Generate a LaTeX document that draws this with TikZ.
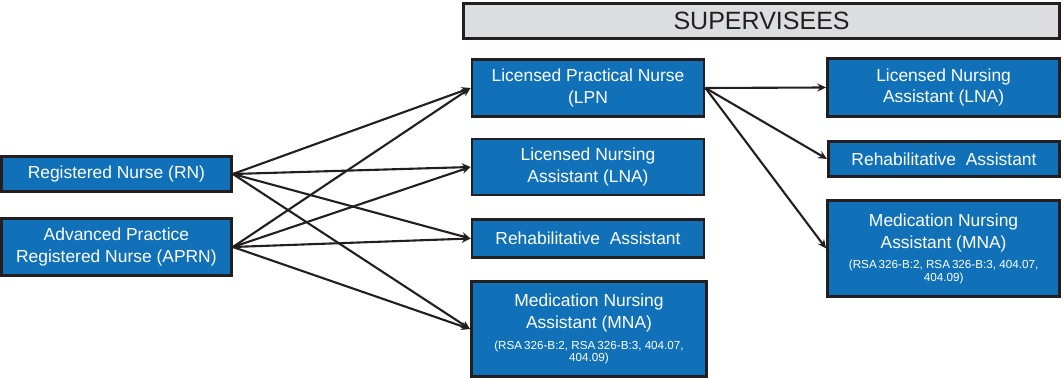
\documentclass[tikz,border=0pt]{standalone}
\usepackage{fontspec}
\setmainfont{Liberation Sans}
\usetikzlibrary{arrows.meta}
\definecolor{boxblue}{RGB}{16,113,185}
\definecolor{boxline}{RGB}{35,31,32}
\definecolor{headgray}{RGB}{220,221,222}
\newcommand{\rsa}{\fontsize{8.3}{8.5}\selectfont}

\begin{document}
\begin{tikzpicture}[
    nurse/.style={draw=boxline, line width=2.1pt, fill=boxblue, text=white,
      align=center, inner sep=0pt, minimum width=5.8cm,
      font=\fontsize{12.4}{15.6}\selectfont},
    sup/.style={draw=boxline, line width=2.1pt, fill=headgray, text=boxline,
      minimum width=14.9cm, minimum height=0.875cm,
      font=\fontsize{17.8}{20}\selectfont},
    link/.style={draw=boxline, line width=1.5pt, -{Stealth[length=0.22cm,width=0.2cm]}}
  ]
  \useasboundingbox (0,0) rectangle (26.6,9.525);
  \node[sup] (head) at (19.04,9.0) {SUPERVISEES};
  % supervisors
  \node[nurse, minimum width=5.75cm, minimum height=0.875cm] (rn) at (2.91,5.175) {Registered Nurse (RN)};
  \node[nurse, minimum width=5.75cm, minimum height=1.425cm] (aprn) at (2.91,3.35) {Advanced Practice\\Registered Nurse (APRN)};
  % supervisees
  \node[nurse, minimum height=1.425cm] (lpn) at (14.7,7.325) {Licensed Practical Nurse\\(LPN};
  \node[nurse, minimum height=1.4cm] (lna) at (14.7,5.35) {Licensed Nursing\\Assistant (LNA)};
  \node[nurse, minimum height=0.95cm] (rehab) at (14.7,3.5625) {Rehabilitative\ \ Assistant};
  \node[nurse, minimum width=5.875cm, minimum height=2.375cm] (mna) at (14.725,1.3) {Medication Nursing\\Assistant (MNA)\\[-1pt]{\rsa (RSA\,326-B:2, RSA\,326-B:3, 404.07,}\\[-6.8pt]{\rsa 404.09)}};
  % supervised by the LPN
  \node[nurse, minimum height=1.45cm] (lnab) at (23.59,7.3375) {Licensed Nursing\\Assistant (LNA)};
  \node[nurse, minimum width=5.775cm, minimum height=0.875cm] (rehabb) at (23.6,5.55) {Rehabilitative\ \ Assistant};
  \node[nurse, minimum height=2.4cm] (mnab) at (23.59,3.3125) {Medication Nursing\\Assistant (MNA)\\[-1pt]{\rsa (RSA\,326-B:2, RSA\,326-B:3, 404.07,}\\[-6.8pt]{\rsa 404.09)}};
  % arrows
  \foreach \src in {rn,aprn}
    \foreach \dst in {lpn,lna,rehab,mna}
      \draw[link] (\src.east) -- (\dst.west);
  \foreach \dst in {lnab,rehabb,mnab}
    \draw[link] (lpn.east) -- (\dst.west);
\end{tikzpicture}
\end{document}
